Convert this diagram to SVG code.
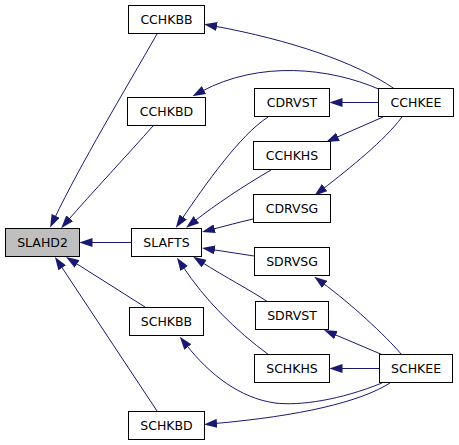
<svg xmlns="http://www.w3.org/2000/svg" width="459" height="445" viewBox="0 0 459 445">
<style>
.node rect{fill:#ffffff;stroke:#000000;stroke-width:1}
.node.hl rect{fill:#bfbfbf}
.node text{font-family:"DejaVu Sans",sans-serif;font-size:12.5px;text-anchor:middle;fill:#000000}
.edges path{fill:none;stroke:#191970;stroke-width:1}
</style>
<defs>
<marker id="ah" markerUnits="userSpaceOnUse" viewBox="0 0 13 9" markerWidth="13" markerHeight="9" refX="3" refY="4.5" orient="auto">
<path d="M0,0 L13,4.5 L0,9 z" fill="#191970" stroke="none"/>
</marker>
</defs>
<rect width="459" height="445" fill="#ffffff"/>
<g class="edges" id="edges">
<path marker-end="url(#ah)" d="M157,34 C125,90 80,165 54.4,218.6"/>
<path marker-end="url(#ah)" d="M153,126 C130,152 90,195 67.7,220.6"/>
<path marker-end="url(#ah)" d="M131.5,242.5 L89.5,242.5"/>
<path marker-end="url(#ah)" d="M145,307 L74.5,262.4"/>
<path marker-end="url(#ah)" d="M157,411 L60.5,265.3"/>
<path marker-end="url(#ah)" d="M394,88.5 C355,62 290,40 214,26"/>
<path marker-end="url(#ah)" d="M378.5,89 C330,68 260,60 201.3,91.5"/>
<path marker-end="url(#ah)" d="M378.5,102.5 L339.5,102.5"/>
<path marker-end="url(#ah)" d="M383,117 L335.2,138"/>
<path marker-end="url(#ah)" d="M402,117 C385,140 350,168 322.3,189.5"/>
<path marker-end="url(#ah)" d="M268,117 C240,135 205,185 181.5,219.5"/>
<path marker-end="url(#ah)" d="M271,170 C245,185 215,205 194,221.5"/>
<path marker-end="url(#ah)" d="M253,219 C240,222 225,226 211.7,229.5"/>
<path marker-end="url(#ah)" d="M254,256 L211.9,249.5"/>
<path marker-end="url(#ah)" d="M268,302 C250,290 225,277 201.6,262.1"/>
<path marker-end="url(#ah)" d="M269,355 C235,330 205,300 182.5,266"/>
<path marker-end="url(#ah)" d="M402,355 C385,335 350,303 322.3,282.7"/>
<path marker-end="url(#ah)" d="M383,355 L333.2,333.9"/>
<path marker-end="url(#ah)" d="M379.5,368.5 L339.5,368.5"/>
<path marker-end="url(#ah)" d="M382,383 C340,400 300,406 275,403 C240,398 210,375 186,344.6"/>
<path marker-end="url(#ah)" d="M390,383 C360,402 300,416 214,423.6"/>
</g>
<g class="node hl" id="SLAHD2"><rect x="5.5" y="228.5" width="74" height="28"/><text x="42.5" y="247">SLAHD2</text></g>
<g class="node" id="SLAFTS"><rect x="131.5" y="228.5" width="70" height="28"/><text x="166.5" y="247">SLAFTS</text></g>
<g class="node" id="SCHKBB"><rect x="129.5" y="307.5" width="74" height="28"/><text x="166.5" y="326">SCHKBB</text></g>
<g class="node" id="SCHKBD"><rect x="128.5" y="411.5" width="76" height="28"/><text x="166.5" y="430">SCHKBD</text></g>
<g class="node" id="CCHKBB"><rect x="128.5" y="5.5" width="76" height="28"/><text x="166.5" y="24">CCHKBB</text></g>
<g class="node" id="CCHKBD"><rect x="127.5" y="97.5" width="78" height="28"/><text x="166.5" y="116">CCHKBD</text></g>
<g class="node" id="CDRVST"><rect x="254.5" y="88.5" width="75" height="28"/><text x="292" y="107">CDRVST</text></g>
<g class="node" id="CCHKEE"><rect x="378.5" y="88.5" width="75" height="28"/><text x="416" y="107">CCHKEE</text></g>
<g class="node" id="CCHKHS"><rect x="253.5" y="141.5" width="77" height="28"/><text x="292" y="160">CCHKHS</text></g>
<g class="node" id="CDRVSG"><rect x="253.5" y="194.5" width="77" height="28"/><text x="292" y="213">CDRVSG</text></g>
<g class="node" id="SDRVSG"><rect x="254.5" y="247.5" width="75" height="28"/><text x="292" y="266">SDRVSG</text></g>
<g class="node" id="SDRVST"><rect x="255.5" y="301.5" width="73" height="28"/><text x="292" y="320">SDRVST</text></g>
<g class="node" id="SCHKHS"><rect x="254.5" y="354.5" width="75" height="28"/><text x="292" y="373">SCHKHS</text></g>
<g class="node" id="SCHKEE"><rect x="379.5" y="354.5" width="73" height="28"/><text x="416" y="373">SCHKEE</text></g>
</svg>
